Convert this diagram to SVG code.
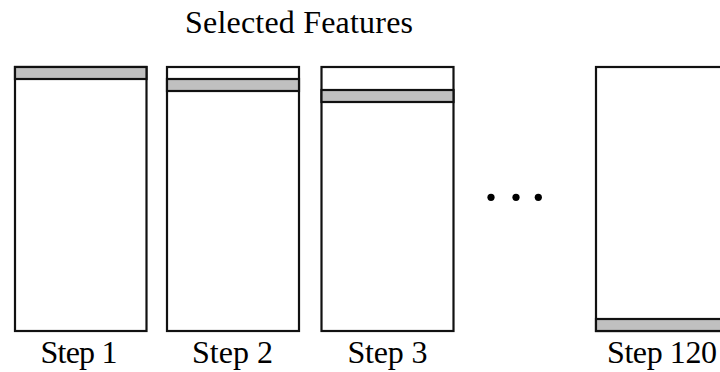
<svg xmlns="http://www.w3.org/2000/svg" width="720" height="372" viewBox="0 0 720 372">
<style>
.box{fill:#fff;stroke:#111;stroke-width:2.2}
.band{fill:#c0c0c0;stroke:#111;stroke-width:2.2}
.lbl{font-family:"Liberation Serif","Times New Roman",serif;font-size:32px;fill:#000;text-anchor:middle}
.dot{fill:#000}
</style>
<rect width="720" height="372" fill="#fff"/>
<text class="lbl" x="299" y="33" textLength="228" lengthAdjust="spacing">Selected Features</text>
<g id="step1">
<rect class="box" x="15" y="67" width="131.5" height="264"/>
<rect class="band" x="15" y="67" width="131.5" height="12"/>
<text class="lbl" x="79" y="363" textLength="77" lengthAdjust="spacing">Step 1</text>
</g>
<g id="step2">
<rect class="box" x="167" y="67" width="132" height="264"/>
<rect class="band" x="167" y="79" width="132" height="12"/>
<text class="lbl" x="232.5" y="363" textLength="81" lengthAdjust="spacing">Step 2</text>
</g>
<g id="step3">
<rect class="box" x="321.5" y="67" width="132" height="264"/>
<rect class="band" x="321.5" y="90" width="132" height="12"/>
<text class="lbl" x="387.5" y="363" textLength="80" lengthAdjust="spacing">Step 3</text>
</g>
<g id="ellipsis">
<circle class="dot" cx="491" cy="197.3" r="3.6"/>
<circle class="dot" cx="516" cy="197.3" r="3.6"/>
<circle class="dot" cx="538.3" cy="197.3" r="3.6"/>
</g>
<g id="step120">
<rect class="box" x="596" y="67" width="140" height="264"/>
<rect class="band" x="596" y="319" width="140" height="12"/>
<text class="lbl" x="662" y="363" textLength="110" lengthAdjust="spacing">Step 120</text>
</g>
</svg>
